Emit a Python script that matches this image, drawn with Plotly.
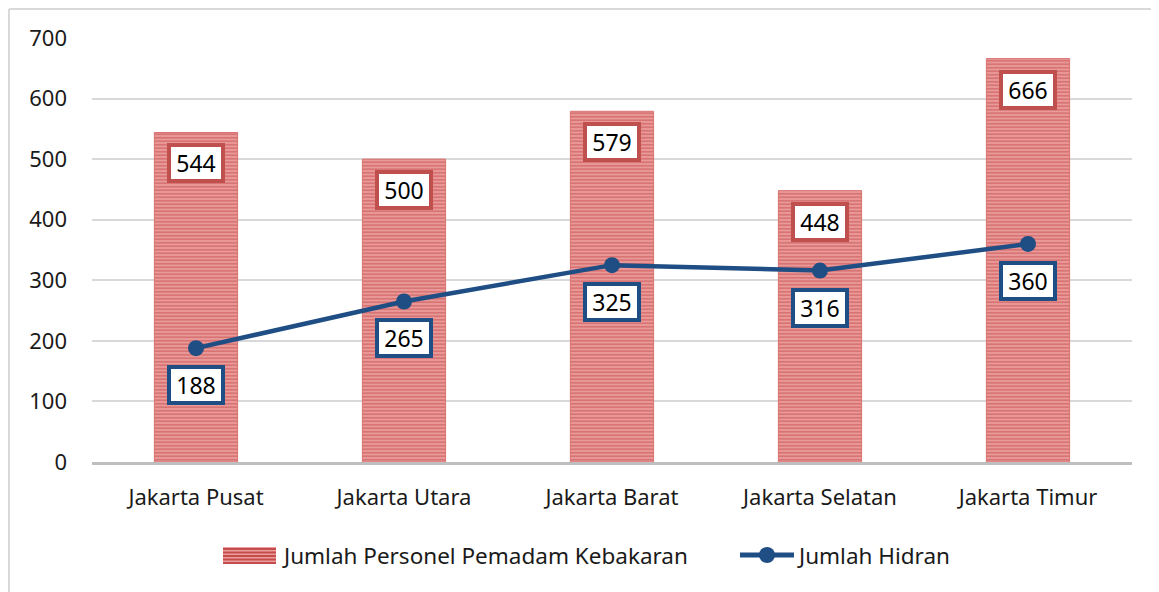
import plotly.graph_objects as go

categories = ["Jakarta Pusat", "Jakarta Utara", "Jakarta Barat", "Jakarta Selatan", "Jakarta Timur"]
personel = [544, 500, 579, 448, 666]
hidran = [188, 265, 325, 316, 360]
y_ticks = [0, 100, 200, 300, 400, 500, 600, 700]
legend_names = ["Jumlah Personel Pemadam Kebakaran", "Jumlah Hidran"]

FONT = "Noto Sans"
RED = "#c0504d"
BLUE = "#1f4e84"
STRIPE_FG = "#c44c4a"
STRIPE_BG = "#ec9d9d"
OFF = 8  # page body margin

W, H = 1159 - OFF, 592 - OFF
L, R, T, B = 92 - OFF, 27, 38 - OFF, 130
pw, ph = W - L - R, H - T - B


def px(xp):
    return (xp - OFF - L) / pw


def py(yp):
    return (H - B - (yp - OFF)) / ph


fig = go.Figure()
fig.add_trace(go.Bar(
    x=categories, y=personel, name=legend_names[0], showlegend=False,
    marker=dict(color="#e28585", line=dict(width=1, color="#d97272"),
                pattern=dict(shape="-", size=3.5, solidity=0.55, fgcolor=STRIPE_FG, bgcolor=STRIPE_BG)),
))
fig.add_trace(go.Scatter(
    x=categories, y=hidran, name=legend_names[1], mode="lines+markers", showlegend=False,
    line=dict(color=BLUE, width=4.5), marker=dict(color=BLUE, size=16),
))

for c, v in zip(categories, personel):
    fig.add_annotation(x=c, y=v, yshift=-31, text=str(v), showarrow=False,
                       font=dict(family=FONT, size=23, color="black"),
                       width=44, height=26,
                       bgcolor="white", bordercolor=RED, borderwidth=4, borderpad=3)
for c, v in zip(categories, hidran):
    fig.add_annotation(x=c, y=v, yshift=-37, text=str(v), showarrow=False,
                       font=dict(family=FONT, size=23, color="black"),
                       width=44, height=26,
                       bgcolor="white", bordercolor=BLUE, borderwidth=4, borderpad=3)

# outer border (top and left visible)
fig.add_shape(type="line", xref="paper", yref="paper", x0=px(9), x1=px(1160), y0=py(9), y1=py(9),
              line=dict(color="#d9d9d9", width=2))
fig.add_shape(type="line", xref="paper", yref="paper", x0=px(9), x1=px(9), y0=py(9), y1=py(600),
              line=dict(color="#d9d9d9", width=2))

# custom legend
fig.add_shape(type="rect", xref="paper", yref="paper", x0=px(223), x1=px(276), y0=py(563), y1=py(547),
              fillcolor=STRIPE_BG, line=dict(width=0))
for k in range(5):
    yy = 549 + k * 3.5
    fig.add_shape(type="line", xref="paper", yref="paper", x0=px(223), x1=px(276), y0=py(yy), y1=py(yy),
                  line=dict(color=STRIPE_FG, width=1.8))
fig.add_annotation(xref="paper", yref="paper", x=px(280), y=py(555), xanchor="left", yanchor="middle",
                   text=legend_names[0], showarrow=False, font=dict(family=FONT, size=22.5, color="#1a1a1a"))
fig.add_shape(type="line", xref="paper", yref="paper", x0=px(740), x1=px(794), y0=py(555), y1=py(555),
              line=dict(color=BLUE, width=5))
fig.add_shape(type="circle", xref="paper", yref="paper", x0=px(759), x1=px(775), y0=py(547), y1=py(563),
              fillcolor=BLUE, line=dict(width=0))
fig.add_annotation(xref="paper", yref="paper", x=px(795), y=py(555), xanchor="left", yanchor="middle",
                   text=legend_names[1], showarrow=False, font=dict(family=FONT, size=22.5, color="#1a1a1a"))

fig.update_layout(
    width=W, height=H, margin=dict(l=L, r=R, t=T, b=B),
    plot_bgcolor="white", paper_bgcolor="white",
    bargap=0.6,
    font=dict(family=FONT, size=22, color="#1a1a1a"),
    showlegend=False,
    xaxis=dict(showgrid=False, showline=True, linecolor="#bfbfbf", linewidth=3,
               ticks="", tickfont=dict(size=22, color="#1a1a1a"), range=[-0.5, 4.5],
               ticklabelstandoff=14),
    yaxis=dict(range=[0, 700], tickvals=y_ticks, showgrid=True, gridcolor="#d9d9d9",
               gridwidth=1.5, zeroline=False, ticks="", tickfont=dict(size=22, color="#1a1a1a"),
               ticklabelstandoff=24),
)

fig.write_html("out.html")
